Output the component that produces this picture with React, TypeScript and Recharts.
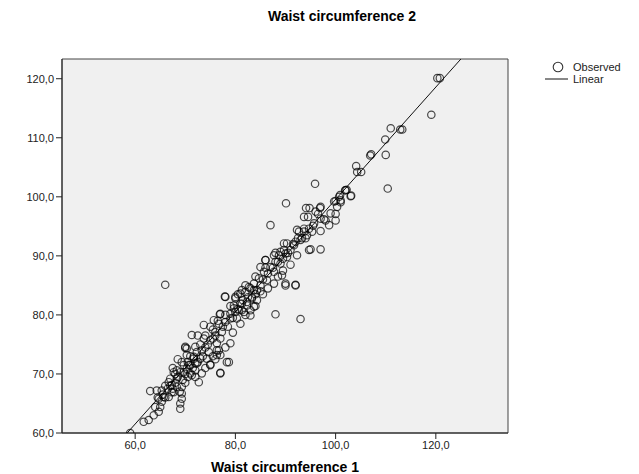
import React from 'react';
import { ComposedChart, Scatter, Line, XAxis, YAxis, ReferenceArea, Label } from 'recharts';

const waist1 = [
  59, 61.7, 62.7, 63.7, 64.7, 65, 64, 65.3, 65.7, 64.7, 66.7, 67.3, 69, 69, 65.3, 64.3, 63, 67, 68.3, 69,
  67.7, 70.3, 71, 69.7, 71.7, 72.3, 70.3, 69.3, 68.3, 67.3, 66.7, 67.7, 69.3, 69.3, 71.3, 72, 72.7, 66, 68.3, 69.7,
  71, 73.3, 69.3, 70.7, 72.3, 75, 78.3, 77, 70.3, 71.7, 73, 74.3, 72, 70, 73.3, 74.7, 76.3, 77, 73.7, 75,
  76.3, 79, 71.3, 75, 76, 77.3, 73.7, 77, 75.7, 76.7, 78, 79, 83, 81.3, 79.7, 80.3, 79, 78, 81.3, 83,
  84.3, 80, 81, 82.3, 83.3, 84.3, 78.7, 75, 77, 70, 76.3, 76.7, 72, 77.9, 76.9, 80, 88, 93, 92, 85,
  86, 90, 81.3, 82.3, 83.7, 79.7, 80.7, 81.7, 83, 82.7, 83.7, 82, 83.3, 81, 83.7, 84.7, 86.3, 87.7, 92, 90,
  89.3, 87.7, 85.7, 87, 86, 88, 89, 87.7, 88.7, 90.3, 92.3, 89.7, 89.7, 90.3, 91.7, 94.7, 93, 94, 92.3, 93.7,
  94.7, 87, 90, 91, 89, 92, 93.3, 94.3, 95.3, 92.7, 93.7, 95, 97, 98.7, 100, 98, 101, 100.7, 102, 104.3,
  99, 97, 95.7, 95.5, 97, 96.5, 97.7, 100, 94.5, 94.1, 94.8, 96.9, 95.9, 90.1, 100, 100.9, 103, 102.2, 99.7, 100.3,
  105.1, 104.1, 107.1, 106.9, 110, 110.4, 109.9, 111, 112.9, 113.3, 119.1, 120.3, 120.8, 103.1, 101.9, 93.7, 97, 96, 101,
  66, 66.5, 67.5, 68, 68.5, 69.5, 70, 70.5, 71.5, 72.5, 73.5, 74, 74.5, 75.5, 76, 77, 77.5, 78.5, 79.5, 80,
  80.5, 81.5, 82.5, 84, 85, 85.5, 86.5, 87.5, 88.5, 89.5, 90.5, 91.5, 92.5, 67, 68, 70.5, 71, 73, 74, 75.5,
  76.5, 78, 79, 80.5, 82, 84, 86, 88, 66, 65.5, 64.5, 70, 72, 74, 75.5, 76, 78, 79.5, 81, 82,
  84, 85.5, 86.5, 88.5, 89.5, 91, 85, 72.5, 68.5, 67.5, 68.9,
];

const waist2 = [
  60, 61.9, 62.2, 63, 63.6, 64.4, 64.4, 65.3, 66.1, 65.8, 66.1, 66.9, 64.1, 65, 67.2, 67.2, 67.1, 69.2, 69.2, 70.3,
  70.3, 70.9, 71.5, 71.5, 72.6, 73.7, 74.3, 67.8, 67.8, 68.1, 68.6, 66.9, 66.7, 65.8, 69.8, 70.6, 68.6, 85.1, 70.6, 70.3,
  70.1, 70.1, 72, 71.5, 71.8, 71.5, 72, 70.2, 73.2, 72.9, 72.6, 72.6, 74.6, 74.6, 74, 73.7, 74, 73.2, 76, 75.7,
  75.2, 75.2, 76.6, 78, 77.1, 77.1, 78.3, 80.2, 79.1, 78.5, 78.8, 79.4, 79.9, 80.8, 81.1, 79.4, 80.2, 83.05, 84.2, 84.5,
  84.2, 82.8, 81.9, 82.2, 82.8, 82.5, 72, 71.6, 70.1, 74.4, 73.2, 74, 71.8, 83.1, 80.1, 83.05, 80.1, 79.3, 85.1, 88.1,
  89.3, 85, 81.9, 81.6, 81.4, 81.6, 80.8, 80.5, 80.8, 84.7, 84.2, 83.9, 83, 83.6, 85.3, 86.2, 85.9, 85.3, 85, 85.3,
  86.7, 87.3, 87.3, 88.1, 89.3, 89, 88.7, 90.1, 90.1, 89.8, 90.1, 91, 92.1, 92.1, 91.8, 91, 92.7, 93, 94.4, 94.1,
  94.6, 95.2, 90.4, 91, 90.7, 92.4, 93, 93.5, 94.1, 94.1, 94.6, 91.1, 91.1, 95.2, 96, 96, 99.1, 100, 101.1, 104.2,
  97.2, 96.3, 95.5, 95.1, 94.2, 97.1, 96.2, 97.1, 96.6, 98.1, 98.1, 98.1, 102.2, 98.9, 99.3, 100.3, 100.1, 101.2, 99.2, 98.3,
  104.2, 105.2, 107.2, 107, 107.1, 101.4, 109.7, 111.6, 111.4, 111.4, 113.9, 120.1, 120.1, 100.2, 101.1, 96.6, 98.3, 97.5, 99.4,
  66, 67.5, 67.5, 68.5, 69.5, 69, 70, 69.5, 71, 72, 73, 74.5, 75, 76, 76.5, 76, 78, 78, 79.5, 80.5,
  81, 82.5, 83, 83.5, 85, 86, 87, 88, 89, 89.5, 90.5, 92, 93, 68, 70, 72, 73, 75, 76.5, 77.5,
  79, 80, 81.5, 83.5, 85, 86.5, 88, 90.5, 68, 66.5, 66, 68.5, 69.5, 71, 73, 72.5, 74.5, 77, 78.5, 80,
  81.5, 83.5, 84.5, 86.5, 87.5, 88.5, 84, 76.5, 72.5, 71, 67,
];

const fitX = [58.4, 125];
const fitY = [60, 123.34];

const xTicks = [60, 80, 100, 120];
const yTicks = [60, 70, 80, 90, 100, 110, 120];

const observed = waist1.map((x, i) => ({ x, y: waist2[i] }));
const linear = fitX.map((x, i) => ({ x, fit: fitY[i] }));

const FONT = '"Liberation Sans", Arial, sans-serif';
const fmt = (v: number) => v.toFixed(1).replace('.', ',');

const Ring = (props: any) => (
  <circle cx={props.cx} cy={props.cy} r={3.7} fill="none" stroke="rgba(0,0,0,0.7)" strokeWidth={1.2} />
);

export default function App() {
  return (
    <div style={{ position: 'absolute', left: 0, top: 0, width: 639, height: 474, background: '#fff' }}>
      <div
        style={{
          position: 'absolute',
          top: 8,
          left: 342,
          transform: 'translateX(-50%)',
          fontFamily: FONT,
          fontWeight: 'bold',
          fontSize: 14,
          whiteSpace: 'nowrap',
          color: '#000',
        }}
      >
        Waist circumference 2
      </div>
      <div
        style={{
          position: 'absolute',
          top: 61,
          left: 545,
          fontFamily: FONT,
          fontSize: 11,
          color: '#222',
          lineHeight: '12px',
        }}
      >
        <div style={{ display: 'flex', alignItems: 'center', height: 12 }}>
          <svg width={26} height={12}>
            <circle cx={13} cy={6} r={4.8} fill="none" stroke="#333" strokeWidth={1.1} />
          </svg>
          <span style={{ marginLeft: 2 }}>Observed</span>
        </div>
        <div style={{ display: 'flex', alignItems: 'center', height: 12 }}>
          <svg width={26} height={12}>
            <line x1={0} x2={23} y1={6} y2={6} stroke="#111" strokeWidth={1} />
          </svg>
          <span style={{ marginLeft: 2 }}>Linear</span>
        </div>
      </div>
      <ComposedChart width={639} height={474} margin={{ top: 59, right: 131, left: 0, bottom: 0 }}>
        <XAxis
          dataKey="x"
          type="number"
          domain={[45.4, 134.4]}
          ticks={xTicks}
          allowDataOverflow
          height={41}
          tickFormatter={fmt}
          tick={{ fontFamily: FONT, fontSize: 11, fill: '#222' }}
          tickSize={6}
          tickLine={{ stroke: '#222' }}
          axisLine={{ stroke: '#222' }}
        >
          <Label
            value="Waist circumference 1"
            position="insideBottom"
            offset={2}
            style={{ fontFamily: FONT, fontWeight: 'bold', fontSize: 14, fill: '#000' }}
          />
        </XAxis>
        <YAxis
          type="number"
          domain={[60, 123.34]}
          ticks={yTicks}
          allowDataOverflow
          width={62}
          tickFormatter={fmt}
          tick={{ fontFamily: FONT, fontSize: 11, fill: '#222' }}
          tickSize={6}
          tickMargin={2}
          tickLine={{ stroke: '#222' }}
          axisLine={{ stroke: '#222' }}
        />
        <ReferenceArea
          x1={45.4}
          x2={134.4}
          y1={60}
          y2={123.34}
          fill="#f0f0f0"
          fillOpacity={1}
          stroke="#444"
          strokeWidth={1}
          ifOverflow="visible"
        />
        <Scatter data={observed} dataKey="y" shape={<Ring />} isAnimationActive={false} legendType="none" />
        <Line
          data={linear}
          dataKey="fit"
          type="linear"
          stroke="#111"
          strokeWidth={1}
          dot={false}
          activeDot={false}
          isAnimationActive={false}
          legendType="none"
        />
      </ComposedChart>
    </div>
  );
}
